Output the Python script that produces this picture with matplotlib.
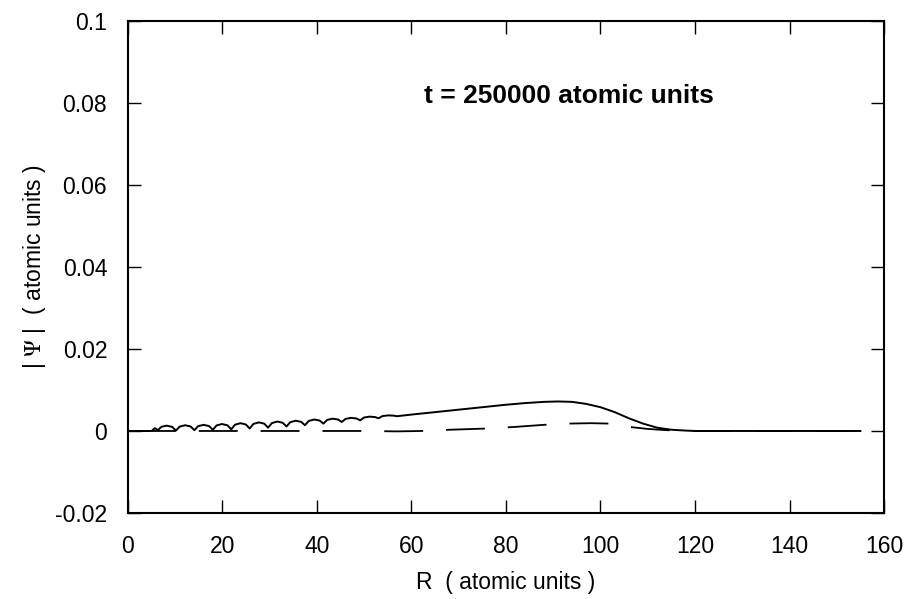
import matplotlib
matplotlib.use('Agg')
import matplotlib.pyplot as plt

plt.rcParams['font.family'] = ['Liberation Sans', 'DejaVu Sans']
plt.rcParams['mathtext.fontset'] = 'stix'
plt.rcParams['lines.scale_dashes'] = False

# |Psi| (solid)
r_solid = [0, 5.0, 5.7, 6.3, 7.1, 8.2, 9.35, 10.15, 10.95, 12.1, 13.25, 14.05,
           14.85, 16.0, 17.15, 17.95, 18.75, 19.9, 21.05, 21.85, 22.65, 23.8,
           24.95, 25.75, 26.55, 27.7, 28.85, 29.65, 30.45, 31.6, 32.75, 33.55,
           34.35, 35.5, 36.65, 37.45, 38.25, 39.4, 40.55, 41.35, 42.15, 43.3,
           44.45, 45.25, 46.05, 47.2, 48.35, 49.15, 49.95, 51.1, 52.25, 53.05,
           53.85, 55.0, 56.15, 56.95, 60, 65, 70, 75, 80, 84, 88, 91, 94, 97,
           100, 103, 106, 109, 112, 115, 118, 120, 155]
psi_solid = [0, 0, 0.0007, 0.0002, 0.00103, 0.0013, 0.0010, 0.0001, 0.00108, 0.0014,
             0.0011, 0.0002, 0.00118, 0.0015, 0.0012, 0.0003, 0.00135, 0.0017,
             0.00138, 0.0004, 0.00153, 0.0019, 0.00158, 0.0006, 0.00173, 0.0021,
             0.00178, 0.0008, 0.00193, 0.0023, 0.0020, 0.0011, 0.00215, 0.0025,
             0.00223, 0.0014, 0.00245, 0.0028, 0.00255, 0.0018, 0.0027, 0.0030,
             0.0028, 0.0022, 0.00295, 0.0032, 0.00305, 0.0026, 0.00328, 0.0035,
             0.0034, 0.0031, 0.00363, 0.0038, 0.00375, 0.0036, 0.0040, 0.0046,
             0.0052, 0.0058, 0.0064, 0.0068, 0.0071, 0.0072, 0.0071, 0.0066,
             0.0058, 0.0046, 0.0031, 0.0018, 0.0008, 0.0003, 0.0001, 0.0, 0.0]

# dashed curve
r_dash = [0, 50, 57, 62, 68, 76, 82, 88, 93, 98, 102, 106, 110, 114, 118, 155]
psi_dash = [0, 0, -0.0001, 0.0, 0.0003, 0.0006, 0.0010, 0.0015, 0.0018, 0.0019,
            0.0018, 0.0010, 0.0005, 0.0002, 0.0, 0.0]

xticks = [0, 20, 40, 60, 80, 100, 120, 140, 160]
yticks = [-0.02, 0, 0.02, 0.04, 0.06, 0.08, 0.1]
ylabels = ['-0.02', '0', '0.02', '0.04', '0.06', '0.08', '0.1']

fig = plt.figure(figsize=(9.09, 5.99), dpi=100)
ax = fig.add_axes([0.1408, 0.1436, 0.8317, 0.8214])

ax.plot(r_solid, psi_solid, color='black', lw=1.4)
ax.plot(r_dash, psi_dash, color='black', lw=1.3, linestyle=(38, (28, 16.5)))

ax.set_xlim(0, 160)
ax.set_ylim(-0.02, 0.1)
ax.set_xticks(xticks)
ax.set_xticklabels([str(v) for v in xticks])
ax.set_yticks(yticks)
ax.set_yticklabels(ylabels)

ax.tick_params(direction='in', top=True, right=True, length=9.5, width=1.0,
               labelsize=16.5)
ax.tick_params(axis='y', pad=15)
ax.tick_params(axis='x', pad=16)
for s in ax.spines.values():
    s.set_linewidth(1.5)

ax.set_xlabel('R  ( atomic units )', fontsize=16.5, labelpad=9)
ax.set_ylabel(r'| $\Psi$ |  ( atomic units )', fontsize=16.5, labelpad=5)

ax.text(62.6, 0.0817, 't = 250000 atomic units', fontsize=19, fontweight='bold',
        ha='left', va='center')

fig.savefig('out.png', dpi=100)
